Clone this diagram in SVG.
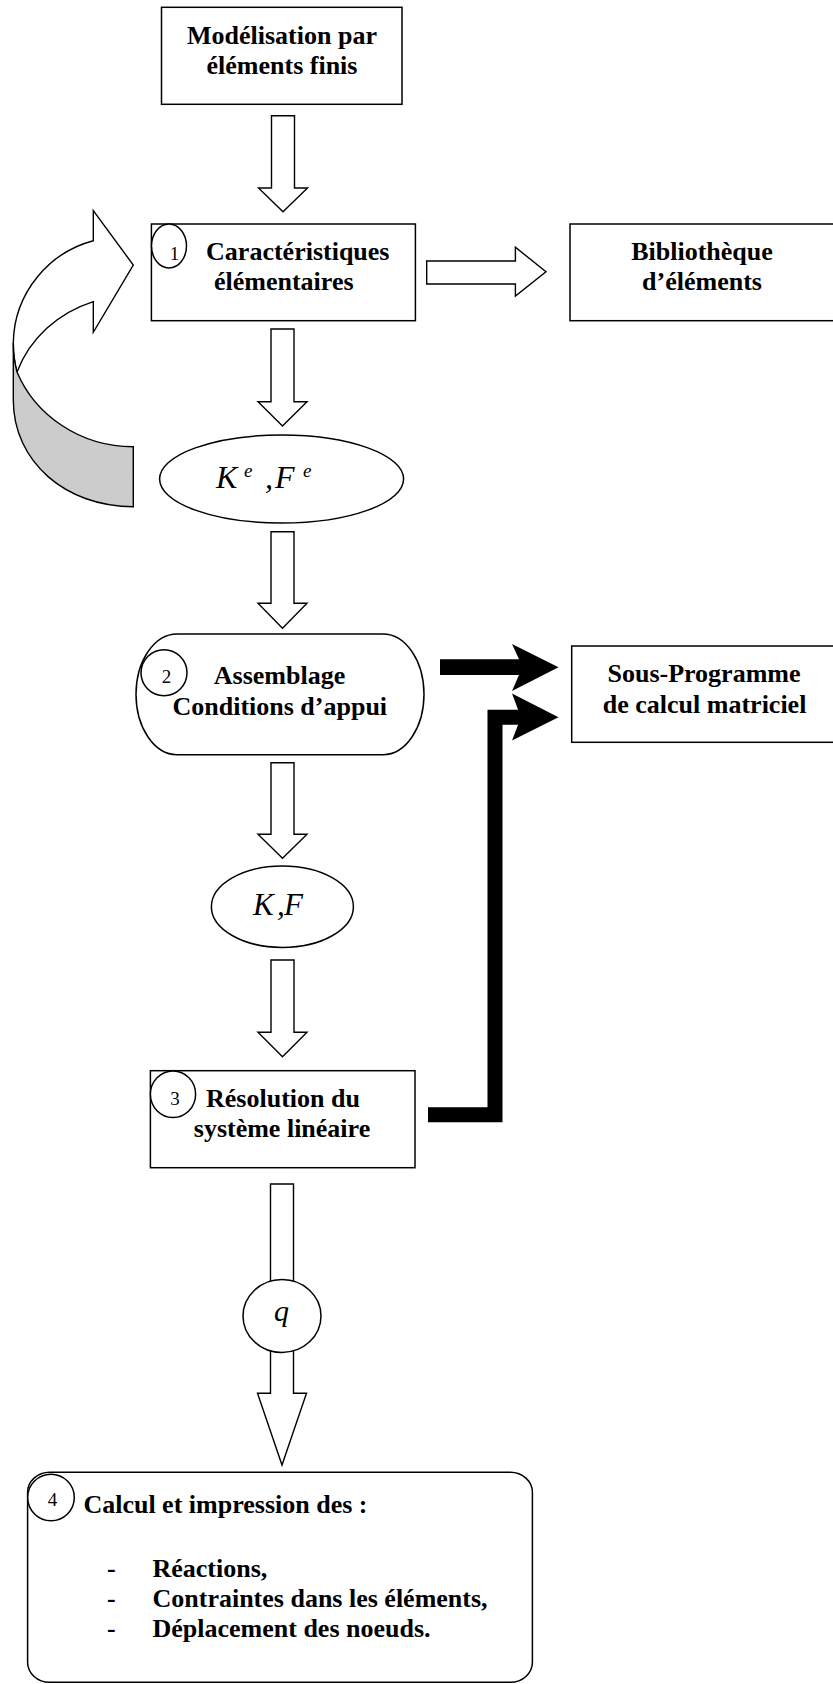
<svg xmlns="http://www.w3.org/2000/svg" width="833" height="1684" viewBox="0 0 833 1684">
<style>
.box{fill:#fff;stroke:#000;stroke-width:1.5}
.hollow{fill:#fff;stroke:#000;stroke-width:1.4;stroke-linejoin:miter}
.t{font-family:"Liberation Serif","Times New Roman",serif;font-weight:bold;font-size:26px;fill:#000}
.c{text-anchor:middle}
.num{font-family:"Liberation Serif","Times New Roman",serif;font-size:19px;fill:#000;text-anchor:middle}
.m{font-family:"Liberation Serif","Times New Roman",serif;font-style:italic;fill:#000}
.blk{fill:#000;stroke:none}
</style>
<rect width="833" height="1684" fill="#fff"/>

<g id="connectors">
  <polygon class="hollow" points="271.5,115.7 294.5,115.7 294.5,188 307.5,188 283,211.7 258.5,188 271.5,188"/>
  <polygon class="hollow" points="426.7,261 515.4,261 515.4,247.3 546,271.7 515.4,296 515.4,284 426.7,284"/>
  <polygon class="hollow" points="271,329 294,329 294,401.7 307,401.7 282.5,426 258,401.7 271,401.7"/>
  <polygon class="hollow" points="271,531.7 294,531.7 294,603.3 307,603.3 282.5,628.3 258,603.3 271,603.3"/>
  <polygon class="hollow" points="271,762.7 294,762.7 294,834.3 307,834.3 282.5,858.3 258,834.3 271,834.3"/>
  <polygon class="hollow" points="271,960 294,960 294,1032.3 307,1032.3 282.5,1056.7 258,1032.3 271,1032.3"/>
  <polygon class="hollow" points="270.5,1184 293.5,1184 293.5,1393.3 306.5,1393.3 282,1465 257.5,1393.3 270.5,1393.3"/>
  <polygon class="blk" points="440,659.3 519,659.3 512,644 558.5,667.3 512,691 519,675 440,675"/>
  <path d="M428,1114.8 H495 V717.2 H520" fill="none" stroke="#000" stroke-width="15" stroke-linejoin="miter"/>
  <polygon class="blk" points="518,709.5 512,693.5 558.5,717.2 512,740.5 518,725"/>
  <g id="loop-arrow">
    <path d="M93.3,240.7 L93.3,210.7 L133.3,265 L93.3,332.3 L93.3,301.7 C58,313 30,338 17,372 C14.3,362 13.3,352 13.3,343 C14,292 50,252 93.3,240.7 Z" fill="#fff" stroke="#000" stroke-width="1.4"/>
    <path d="M17,372 C35,415 80,446.7 133.3,446.7 L133.3,506.7 C66,506.7 13.3,462 13.3,400 L13.3,343 C13.3,353 14.3,362 17,372 Z" fill="#cccccc" stroke="#000" stroke-width="1.4"/>
  </g>
</g>

<g id="n-modelisation">
  <rect class="box" x="161.5" y="7.3" width="240.5" height="97"/>
  <text class="t c" x="282" y="43.8">Modélisation par</text>
  <text class="t c" x="282" y="74.3">éléments finis</text>
</g>

<g id="n-caracteristiques">
  <rect class="box" x="151.4" y="224" width="264" height="96.7"/>
  <ellipse class="box" cx="169" cy="246" rx="17.5" ry="22"/>
  <text class="num" x="174.5" y="260">1</text>
  <text class="t c" x="297.8" y="260">Caractéristiques</text>
  <text class="t c" x="283.8" y="290">élémentaires</text>
</g>

<g id="n-bibliotheque">
  <rect class="box" x="570" y="224" width="264" height="96.7"/>
  <text class="t c" x="702" y="260">Bibliothèque</text>
  <text class="t c" x="702" y="290">d’éléments</text>
</g>

<g id="n-kefe">
  <ellipse class="box" cx="281.6" cy="479" rx="122" ry="44"/>
  <text class="m" x="216" y="488" font-size="32">K</text>
  <text class="m" x="244" y="476.5" font-size="19">e</text>
  <text class="m" x="265" y="488" font-size="32">,</text>
  <text class="m" x="275" y="488" font-size="32">F</text>
  <text class="m" x="303" y="476.5" font-size="19">e</text>
</g>

<g id="n-assemblage">
  <path class="box" d="M177,634 H383 A41 60.35 0 0 1 383,754.7 H177 A41 60.35 0 0 1 177,634 Z"/>
  <circle class="box" cx="164" cy="672.7" r="23"/>
  <text class="num" x="166.5" y="683">2</text>
  <text class="t c" x="279.5" y="684">Assemblage</text>
  <text class="t c" x="279.8" y="715">Conditions d’appui</text>
</g>

<g id="n-sousprogramme">
  <rect class="box" x="571.7" y="646" width="264" height="96.3"/>
  <text class="t c" x="704" y="681.7">Sous-Programme</text>
  <text class="t c" x="704.6" y="713.3">de calcul matriciel</text>
</g>

<g id="n-kf">
  <ellipse class="box" cx="282.4" cy="906.7" rx="71" ry="40.7"/>
  <text class="m" x="253" y="915" font-size="31">K</text>
  <text class="m" x="277" y="915" font-size="31">,</text>
  <text class="m" x="284" y="915" font-size="31">F</text>
</g>

<g id="n-resolution">
  <rect class="box" x="150.4" y="1070.7" width="264.6" height="97"/>
  <ellipse class="box" cx="173" cy="1094.3" rx="22.6" ry="23.3"/>
  <text class="num" x="175" y="1105">3</text>
  <text class="t c" x="283" y="1106.7">Résolution du</text>
  <text class="t c" x="282" y="1136.7">système linéaire</text>
</g>

<g id="n-q">
  <ellipse class="box" cx="282" cy="1316" rx="39" ry="36.5"/>
  <text class="m" x="281.5" y="1321" font-size="30" text-anchor="middle">q</text>
</g>

<g id="n-calcul">
  <rect class="box" x="27.6" y="1472.3" width="504.8" height="210" rx="22" ry="20"/>
  <circle class="box" cx="51" cy="1497.5" r="23.3"/>
  <text class="num" x="52.6" y="1506">4</text>
  <text class="t" x="83.4" y="1513.3">Calcul et impression des :</text>
  <text class="t" x="107" y="1577">-</text>
  <text class="t" x="152.5" y="1577">Réactions,</text>
  <text class="t" x="107" y="1607">-</text>
  <text class="t" x="152.5" y="1607">Contraintes dans les éléments,</text>
  <text class="t" x="107" y="1637">-</text>
  <text class="t" x="152.5" y="1637">Déplacement des noeuds.</text>
</g>
</svg>
